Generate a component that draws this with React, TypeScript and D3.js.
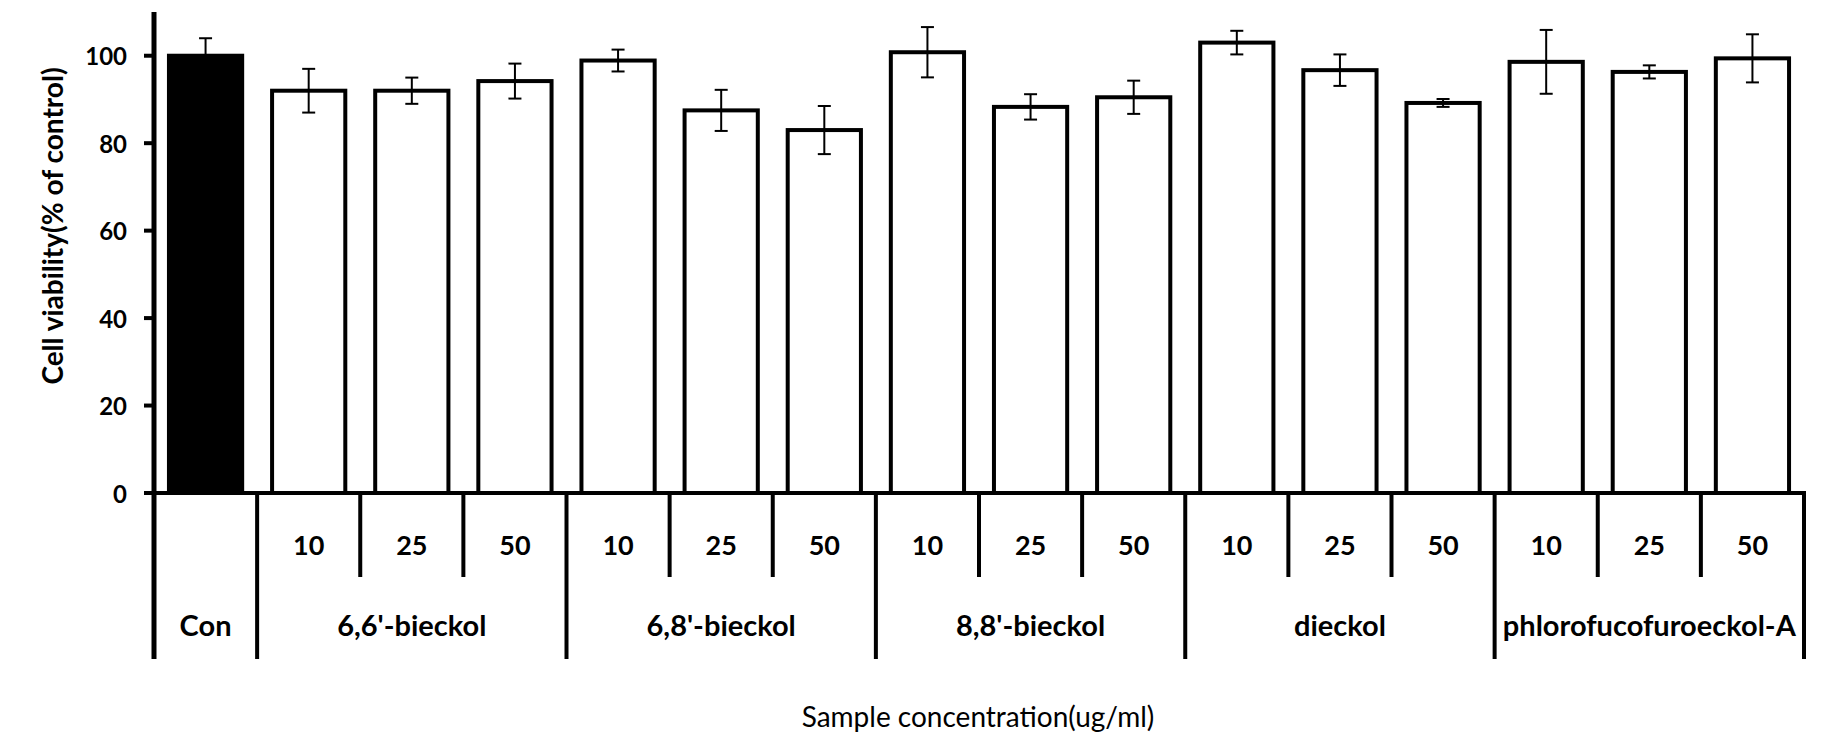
import React from "react";
import * as d3 from "d3";

const groups = ["Con", "6,6'-bieckol", "6,8'-bieckol", "8,8'-bieckol", "dieckol", "phlorofucofuroeckol-A"];
const barGroup = [0, 1, 1, 1, 2, 2, 2, 3, 3, 3, 4, 4, 4, 5, 5, 5];
const barConc = ["", "10", "25", "50", "10", "25", "50", "10", "25", "50", "10", "25", "50", "10", "25", "50"];
const means = [100, 92.0, 92.0, 94.2, 98.9, 87.5, 83.0, 100.8, 88.3, 90.5, 103.0, 96.7, 89.2, 98.6, 96.3, 99.4];
const errors = [4.0, 5.0, 3.0, 4.0, 2.5, 4.7, 5.5, 5.75, 2.9, 3.8, 2.7, 3.6, 0.9, 7.3, 1.5, 5.5];
const yTicks = [0, 20, 40, 60, 80, 100];
const yTitle = "Cell viability(% of control)";
const xTitle = "Sample concentration(ug/ml)";

const W = 1835;
const H = 749;
const left = 154;
const right = 1804;
const yTop = 12;
const yZero = 493;
const shortEnd = 577;
const longEnd = 659;
const FONT = "Lato, 'Open Sans', sans-serif";

export default function App() {
  const idx = means.map((_, i) => i);
  const x = d3.scaleBand<number>().domain(idx).range([left, right]).paddingInner(0.29).paddingOuter(0.145);
  const step = x.step();
  const y = d3.scaleLinear().domain([0, 110]).range([yZero, yTop]);
  const boundary = (i: number) => left + i * step;

  const groupStarts: number[] = [];
  barGroup.forEach((g, i) => {
    if (i === 0 || barGroup[i - 1] !== g) groupStarts.push(i);
  });
  const longDividers = [...groupStarts, means.length];
  const shortDividers = idx.filter((i) => i > 0 && !groupStarts.includes(i));

  return (
    <svg width={W} height={H} style={{ position: "absolute", left: 0, top: 0, background: "#fff" }}>
      {means.map((m, i) => (
        <rect
          key={"b" + i}
          x={x(i)}
          y={y(m)}
          width={x.bandwidth()}
          height={yZero - y(m)}
          fill={i === 0 ? "#000" : "#fff"}
          stroke="#000"
          strokeWidth={4}
        />
      ))}
      {means.map((m, i) => {
        const cx = (x(i) as number) + x.bandwidth() / 2;
        const top = y(m + errors[i]);
        const bot = y(m - errors[i]);
        return (
          <g key={"e" + i} stroke="#000" strokeWidth={2}>
            <line x1={cx} x2={cx} y1={top} y2={bot} />
            <line x1={cx - 6.5} x2={cx + 6.5} y1={top} y2={top} />
            <line x1={cx - 6.5} x2={cx + 6.5} y1={bot} y2={bot} />
          </g>
        );
      })}
      <line x1={left} x2={left} y1={yTop} y2={longEnd} stroke="#000" strokeWidth={5} />
      {yTicks.map((t) => (
        <g key={"t" + t}>
          <line x1={left - 10} x2={left} y1={y(t)} y2={y(t)} stroke="#000" strokeWidth={4} />
          <text
            x={127}
            y={y(t)}
            textAnchor="end"
            dominantBaseline="central"
            fontFamily={FONT}
            fontWeight="bold"
            fontSize={24}
          >
            {t}
          </text>
        </g>
      ))}
      <line x1={left - 10} x2={right + 2} y1={yZero} y2={yZero} stroke="#000" strokeWidth={4} />
      {longDividers.map((i) =>
        i === 0 ? null : (
          <line key={"l" + i} x1={boundary(i)} x2={boundary(i)} y1={yZero} y2={longEnd} stroke="#000" strokeWidth={4} />
        )
      )}
      {shortDividers.map((i) => (
        <line key={"s" + i} x1={boundary(i)} x2={boundary(i)} y1={yZero} y2={shortEnd} stroke="#000" strokeWidth={4} />
      ))}
      {barConc.map((c, i) =>
        c ? (
          <text
            key={"c" + i}
            x={(x(i) as number) + x.bandwidth() / 2}
            y={544}
            textAnchor="middle"
            dominantBaseline="central"
            fontFamily={FONT}
            fontWeight="bold"
            fontSize={27}
          >
            {c}
          </text>
        ) : null
      )}
      {groupStarts.map((s, gi) => {
        const e = longDividers[gi + 1];
        return (
          <text
            key={"g" + gi}
            x={(boundary(s) + boundary(e)) / 2}
            y={624}
            textAnchor="middle"
            dominantBaseline="central"
            fontFamily={FONT}
            fontWeight="bold"
            fontSize={29}
          >
            {groups[barGroup[s]]}
          </text>
        );
      })}
      <text x={978} y={716} textAnchor="middle" dominantBaseline="central" fontFamily={FONT} fontSize={28}>
        {xTitle}
      </text>
      <text
        transform={`translate(52,226) rotate(-90)`}
        textAnchor="middle"
        dominantBaseline="central"
        fontFamily={FONT}
        fontWeight="bold"
        fontSize={28}
      >
        {yTitle}
      </text>
    </svg>
  );
}
